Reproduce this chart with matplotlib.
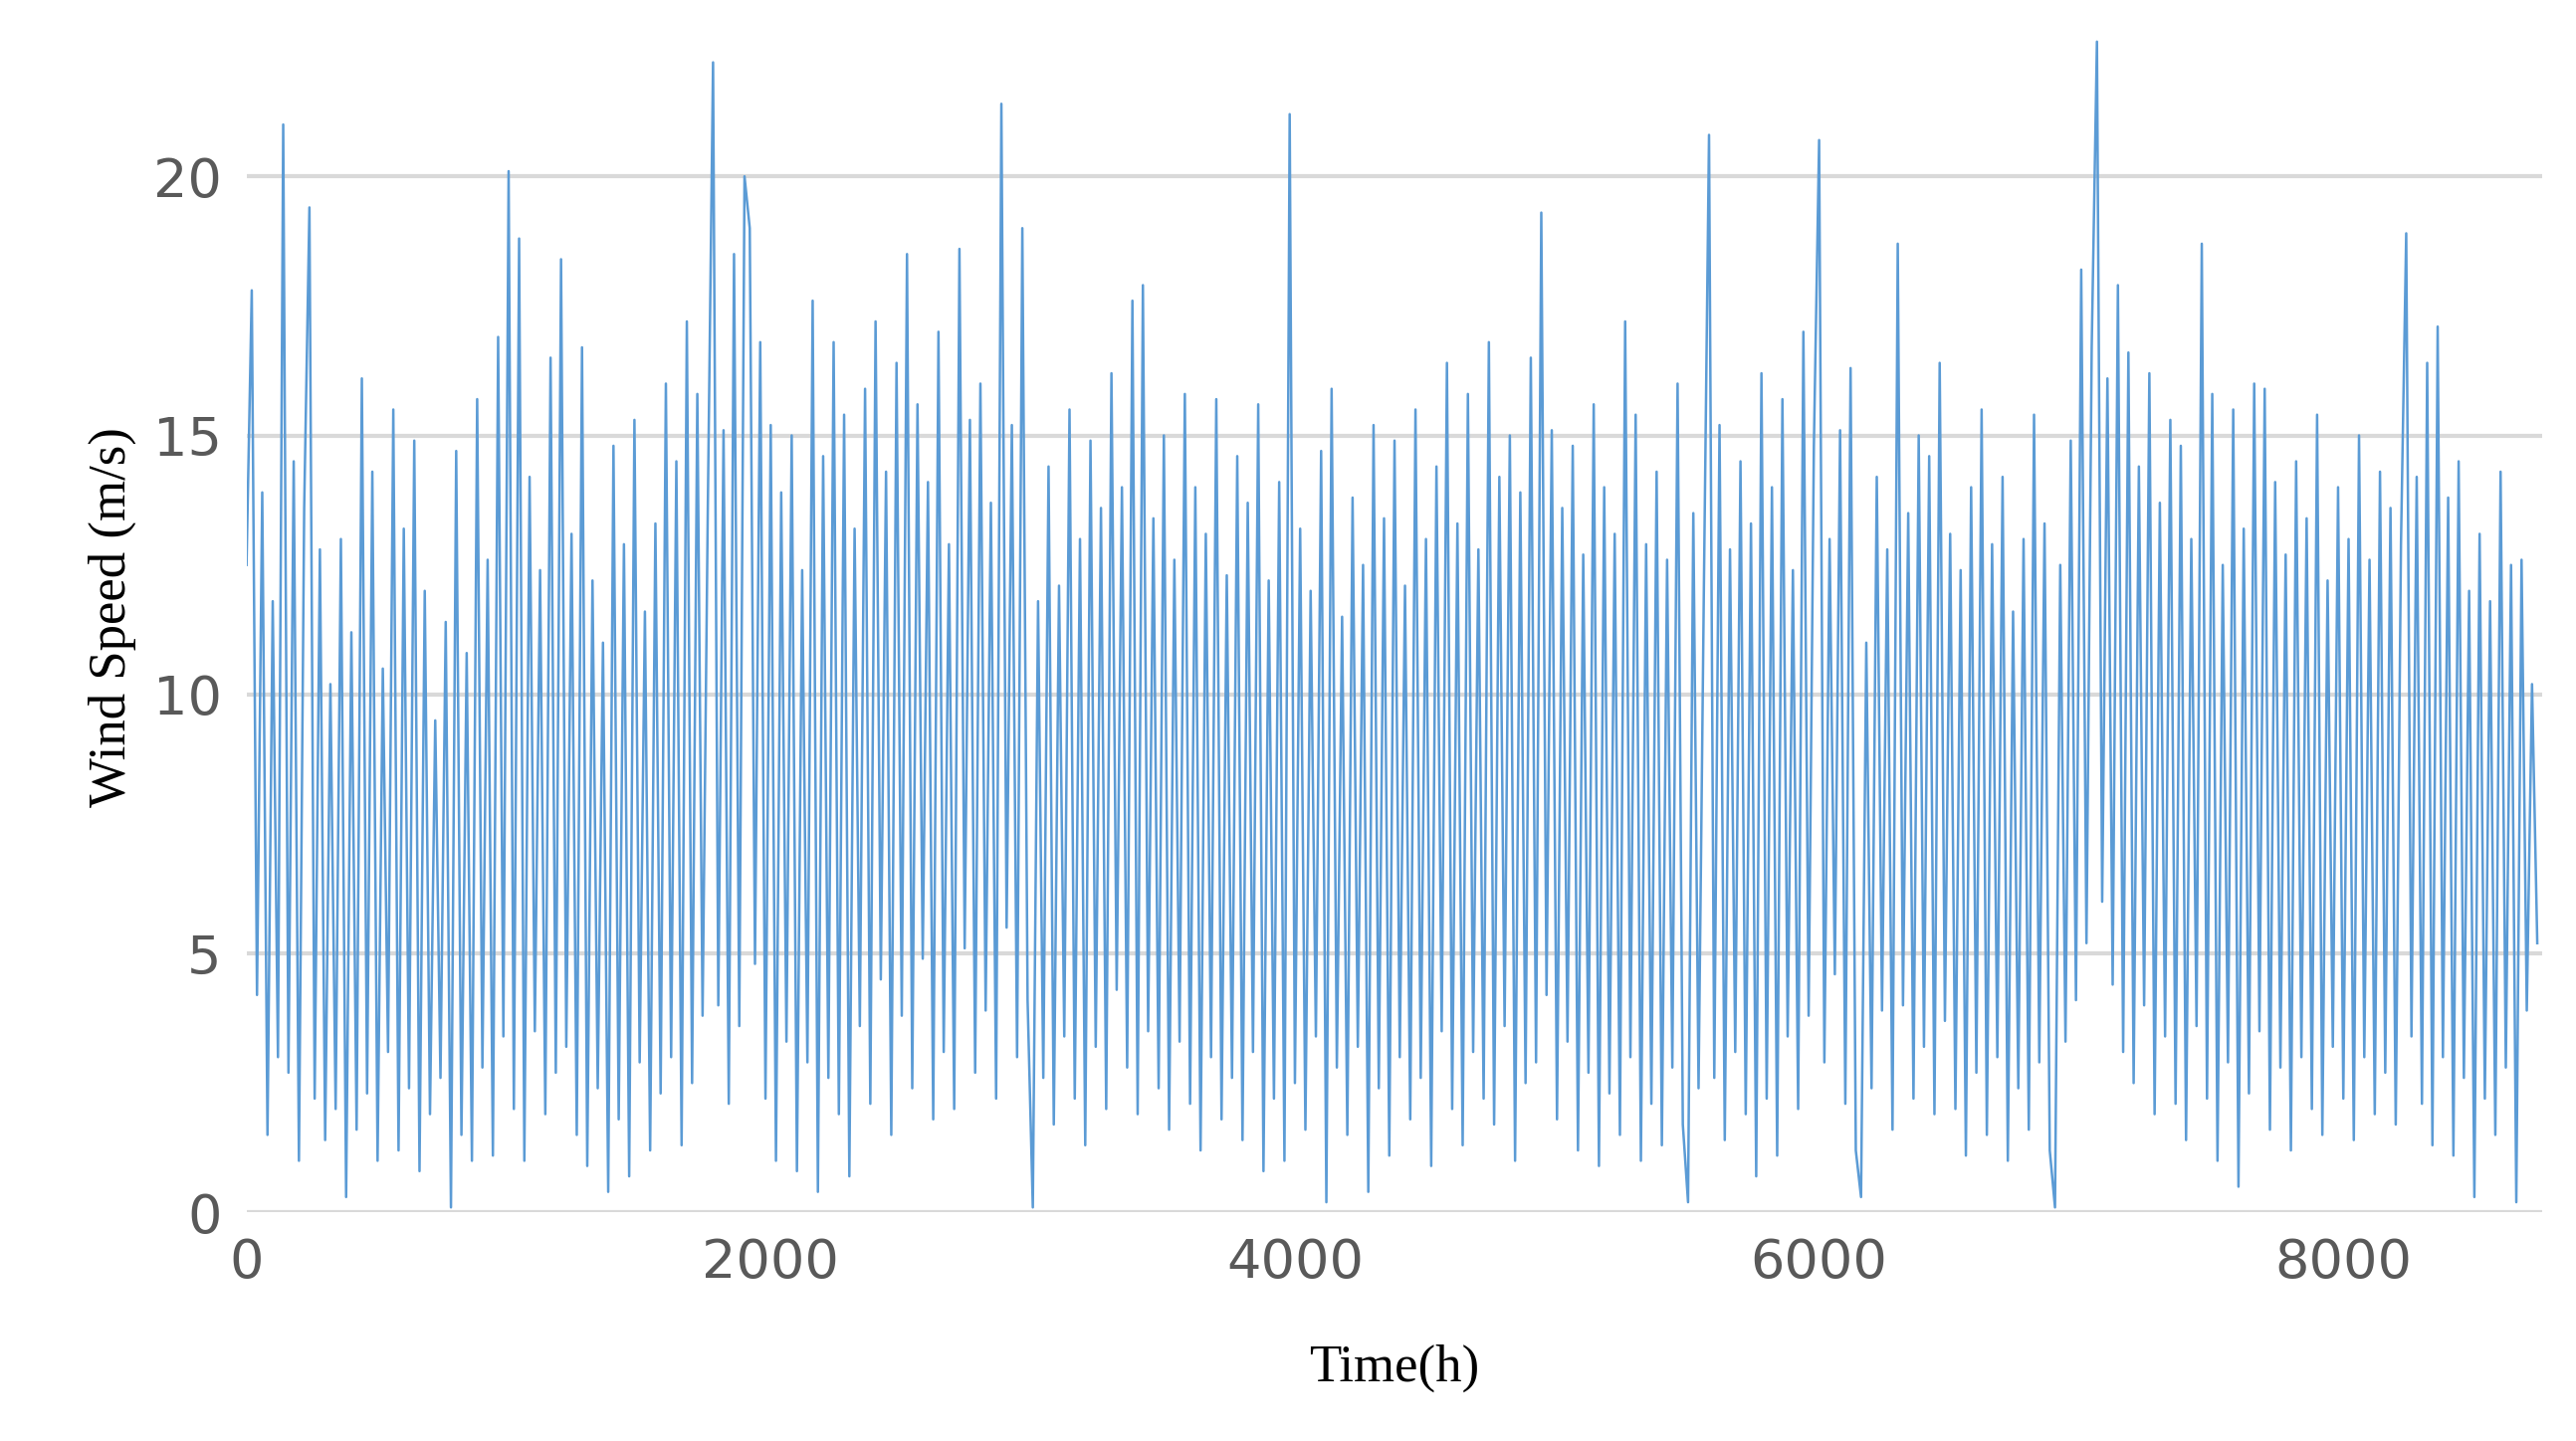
import matplotlib
matplotlib.use("Agg")
import matplotlib.pyplot as plt
import numpy as np

step_hours = 20
wind_speed = [
12.5, 17.8, 4.2, 13.9, 1.5, 11.8, 3.0, 21.0, 2.7, 14.5,
1.0, 13.6, 19.4, 2.2, 12.8, 1.4, 10.2, 2.0, 13.0, 0.3,
11.2, 1.6, 16.1, 2.3, 14.3, 1.0, 10.5, 3.1, 15.5, 1.2,
13.2, 2.4, 14.9, 0.8, 12.0, 1.9, 9.5, 2.6, 11.4, 0.1,
14.7, 1.5, 10.8, 1.0, 15.7, 2.8, 12.6, 1.1, 16.9, 3.4,
20.1, 2.0, 18.8, 1.0, 14.2, 3.5, 12.4, 1.9, 16.5, 2.7,
18.4, 3.2, 13.1, 1.5, 16.7, 0.9, 12.2, 2.4, 11.0, 0.4,
14.8, 1.8, 12.9, 0.7, 15.3, 2.9, 11.6, 1.2, 13.3, 2.3,
16.0, 3.0, 14.5, 1.3, 17.2, 2.5, 15.8, 3.8, 13.6, 22.2,
4.0, 15.1, 2.1, 18.5, 3.6, 20.0, 19.0, 4.8, 16.8, 2.2,
15.2, 1.0, 13.9, 3.3, 15.0, 0.8, 12.4, 2.9, 17.6, 0.4,
14.6, 2.6, 16.8, 1.9, 15.4, 0.7, 13.2, 3.6, 15.9, 2.1,
17.2, 4.5, 14.3, 1.5, 16.4, 3.8, 18.5, 2.4, 15.6, 4.9,
14.1, 1.8, 17.0, 3.1, 12.9, 2.0, 18.6, 5.1, 15.3, 2.7,
16.0, 3.9, 13.7, 2.2, 21.4, 5.5, 15.2, 3.0, 19.0, 4.1,
0.1, 11.8, 2.6, 14.4, 1.7, 12.1, 3.4, 15.5, 2.2, 13.0,
1.3, 14.9, 3.2, 13.6, 2.0, 16.2, 4.3, 14.0, 2.8, 17.6,
1.9, 17.9, 3.5, 13.4, 2.4, 15.0, 1.6, 12.6, 3.3, 15.8,
2.1, 14.0, 1.2, 13.1, 3.0, 15.7, 1.8, 12.3, 2.6, 14.6,
1.4, 13.7, 3.1, 15.6, 0.8, 12.2, 2.2, 14.1, 1.0, 21.2,
2.5, 13.2, 1.6, 12.0, 3.4, 14.7, 0.2, 15.9, 2.8, 11.5,
1.5, 13.8, 3.2, 12.5, 0.4, 15.2, 2.4, 13.4, 1.1, 14.9,
3.0, 12.1, 1.8, 15.5, 2.6, 13.0, 0.9, 14.4, 3.5, 16.4,
2.0, 13.3, 1.3, 15.8, 3.1, 12.8, 2.2, 16.8, 1.7, 14.2,
3.6, 15.0, 1.0, 13.9, 2.5, 16.5, 2.9, 19.3, 4.2, 15.1,
1.8, 13.6, 3.3, 14.8, 1.2, 12.7, 2.7, 15.6, 0.9, 14.0,
2.3, 13.1, 1.5, 17.2, 3.0, 15.4, 1.0, 12.9, 2.1, 14.3,
1.3, 12.6, 2.8, 16.0, 1.7, 0.2, 13.5, 2.4, 11.9, 20.8,
2.6, 15.2, 1.4, 12.8, 3.1, 14.5, 1.9, 13.3, 0.7, 16.2,
2.2, 14.0, 1.1, 15.7, 3.4, 12.4, 2.0, 17.0, 3.8, 14.8,
20.7, 2.9, 13.0, 4.6, 15.1, 2.1, 16.3, 1.2, 0.3, 11.0,
2.4, 14.2, 3.9, 12.8, 1.6, 18.7, 4.0, 13.5, 2.2, 15.0,
3.2, 14.6, 1.9, 16.4, 3.7, 13.1, 2.0, 12.4, 1.1, 14.0,
2.7, 15.5, 1.5, 12.9, 3.0, 14.2, 1.0, 11.6, 2.4, 13.0,
1.6, 15.4, 2.9, 13.3, 1.2, 0.1, 12.5, 3.3, 14.9, 4.1,
18.2, 5.2, 16.7, 22.6, 6.0, 16.1, 4.4, 17.9, 3.1, 16.6,
2.5, 14.4, 4.0, 16.2, 1.9, 13.7, 3.4, 15.3, 2.1, 14.8,
1.4, 13.0, 3.6, 18.7, 2.2, 15.8, 1.0, 12.5, 2.9, 15.5,
0.5, 13.2, 2.3, 16.0, 3.5, 15.9, 1.6, 14.1, 2.8, 12.7,
1.2, 14.5, 3.0, 13.4, 2.0, 15.4, 1.5, 12.2, 3.2, 14.0,
2.2, 13.0, 1.4, 15.0, 3.0, 12.6, 1.9, 14.3, 2.7, 13.6,
1.7, 12.9, 18.9, 3.4, 14.2, 2.1, 16.4, 1.3, 17.1, 3.0,
13.8, 1.1, 14.5, 2.6, 12.0, 0.3, 13.1, 2.2, 11.8, 1.5,
14.3, 2.8, 12.5, 0.2, 12.6, 3.9, 10.2, 5.2,
]
hours = np.arange(len(wind_speed)) * step_hours
x_ticks = [0, 2000, 4000, 6000, 8000]
y_ticks = [0, 5, 10, 15, 20]

fig = plt.figure(figsize=(25.88, 14.48), dpi=100)
ax = fig.add_axes([0.0957, 0.1585, 0.8913, 0.827])
ax.plot(hours, wind_speed, color="#5B9BD5", linewidth=1.8, zorder=3)
ax.set_xlim(0, 8760)
ax.set_ylim(0, 23)
ax.set_xticks(x_ticks)
ax.set_yticks(y_ticks)
ax.grid(axis="y", color="#D9D9D9", linewidth=3)
ax.set_axisbelow(True)
for s in ax.spines.values():
    s.set_visible(False)
ax.tick_params(length=0, labelsize=39, labelcolor="#595959", pad=18)
ax.set_xlabel("Time(h)", fontsize=38, family="Liberation Serif", labelpad=40)
ax.set_ylabel("Wind Speed (m/s)", fontsize=38, family="Liberation Serif", labelpad=12)
fig.savefig("out.png", dpi=100)
